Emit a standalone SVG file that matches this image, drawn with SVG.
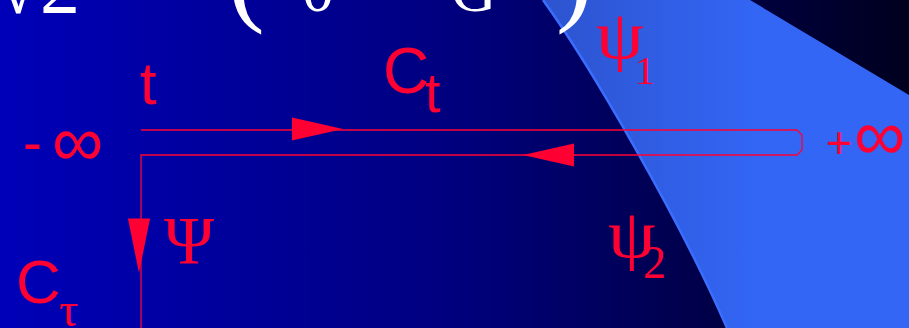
<svg xmlns="http://www.w3.org/2000/svg" width="909" height="328" viewBox="0 0 909 328">
  <defs>
    <linearGradient id="bg" x1="0" y1="0" x2="909" y2="0" gradientUnits="userSpaceOnUse">
      <stop offset="0" stop-color="#0000B8"/>
      <stop offset="0.5" stop-color="#00007E"/>
      <stop offset="1" stop-color="#00001E"/>
    </linearGradient>
    <linearGradient id="lb" x1="560" y1="0" x2="760" y2="0" gradientUnits="userSpaceOnUse">
      <stop offset="0" stop-color="#2D55D2"/>
      <stop offset="1" stop-color="#3366F5"/>
    </linearGradient>
    <path id="ah" d="M0,0 L-51,-11.5 L-51,11.5 Z"/>
    <style>
      .red { fill: #FF0033; }
      .sans { font-family: "Liberation Sans", Arial, sans-serif; }
      .serif { font-family: "Liberation Serif", "Times New Roman", serif; }
      .white { fill: #FFFFFF; }
      .wire { fill: none; stroke: #FF0033; stroke-width: 1.3; }
    </style>
  </defs>

  <!-- background -->
  <rect x="0" y="0" width="909" height="328" fill="url(#bg)"/>
  <path d="M543,0 L750,0 L909,95 L909,328 L727,328 C680,220 590,65 543,0 Z" fill="url(#lb)"/>
  <path d="M727,328 C680,220 590,65 543,0" fill="none" stroke="#3A6EFF" stroke-width="2.5"/>

  <!-- partially visible heading -->
  <g id="heading" class="serif white">
    <text x="-4" y="13" font-size="80">√2</text>
    <text x="228" y="11" font-size="110">(</text>
    <text x="302" y="11" font-size="64">0</text>
    <text x="451" y="11" font-size="63">G</text>
    <text x="556" y="11" font-size="110">)</text>
  </g>

  <!-- connectors -->
  <g id="connectors">
    <path class="wire" d="M141,130 H797 L802,135 V150 L797,155 H141 V328"/>
    <use href="#ah" class="red" transform="translate(343,129)"/>
    <use href="#ah" class="red" transform="translate(523,155) rotate(180)"/>
    <use href="#ah" class="red" transform="translate(139,273) rotate(90) scale(1.07,0.96)"/>
  </g>

  <!-- labels -->
  <g id="label-t"><text class="sans red" x="140" y="104" font-size="60">t</text></g>
  <g id="label-Ct"><text class="sans red" x="383" y="93" font-size="64">C<tspan x="425" y="112" font-size="56">t</tspan></text></g>
  <g id="label-minus-inf"><text class="sans red"><tspan x="23" y="162" font-size="57">-</tspan><tspan x="52" y="166" font-size="72">∞</tspan></text></g>
  <g id="label-plus-inf"><text class="sans red"><tspan x="826" y="158" font-size="45">+</tspan><tspan x="854" y="160" font-size="72">∞</tspan></text></g>
  <g id="label-psi1"><text class="serif red" transform="translate(596,58) scale(1.12,1)" x="0" y="0" font-size="68">ψ</text><text class="serif red" x="635" y="84" font-size="40">1</text></g>
  <g id="label-Psi"><text class="serif red" x="164" y="263" font-size="68">Ψ</text></g>
  <g id="label-psi2"><text class="serif red" transform="translate(608,257) scale(1.12,1)" x="0" y="0" font-size="68">ψ</text><text class="serif red" x="643" y="278" font-size="46">2</text></g>
  <g id="label-Ctau"><text class="sans red" x="16" y="303" font-size="62">C<tspan class="serif" x="59" y="326" font-size="48">τ</tspan></text></g>
</svg>
